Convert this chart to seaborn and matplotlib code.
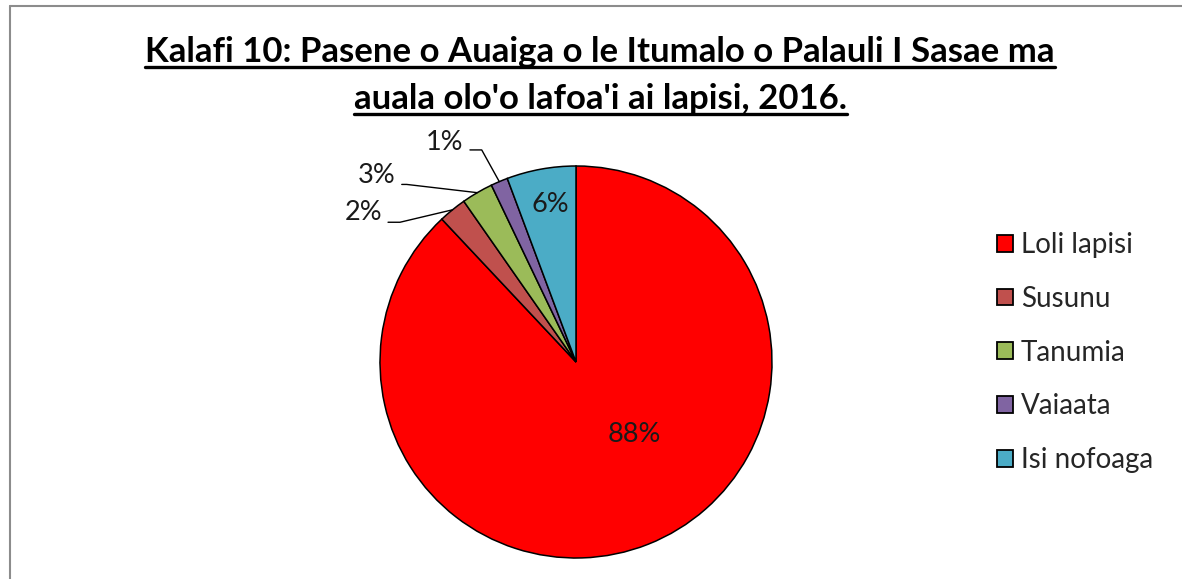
import numpy as np
import matplotlib
matplotlib.use("Agg")
import matplotlib.pyplot as plt
import seaborn as sns

# data
categories = ["Loli lapisi", "Susunu", "Tanumia", "Vaiaata", "Isi nofoaga"]
shares = [88.0, 2.3, 2.6, 1.4, 5.7]
colors = ["#FF0000", "#C0504D", "#9BBB59", "#8064A2", "#4BACC6"]
title_lines = ["Kalafi 10: Pasene o Auaiga o le Itumalo o Palauli I Sasae ma",
               "auala olo'o lafoa'i ai lapisi, 2016."]

sns.set_theme(style="white")
plt.rcParams["font.family"] = ["Lato", "DejaVu Sans"]

W, H = 1182, 579
fig = plt.figure(figsize=(W / 100, H / 100), dpi=100)

# pie: centre (576, 362) px, radius 196 px
cx, cy, r = 576, 362, 196
ax = fig.add_axes([(cx - r) / W, (H - cy - r) / H, 2 * r / W, 2 * r / H])
wedges, _ = ax.pie(shares, colors=colors, startangle=90, counterclock=False,
                   wedgeprops=dict(edgecolor="black", linewidth=1.1))
ax.set_xlim(-1, 1)
ax.set_ylim(-1, 1)
ax.set_aspect("equal")
ax.axis("off")
for w in wedges:
    w.set_clip_on(False)

fs = 19.5
# inside labels (red, blue)
inside_pos = {0: (0.30, -0.37), 4: (-0.133, 0.806)}
# outside labels: text centre, leader start, elbow x
outside_pos = {1: (-1.084, 0.763), 2: (-1.016, 0.952), 3: (-0.672, 1.120)}
leader_start = {1: (-0.959, 0.713), 2: (-0.889, 0.906), 3: (-0.541, 1.082)}
elbow_x = {1: -0.898, 2: -0.864, 3: -0.481}
for i, w in enumerate(wedges):
    txt = f"{shares[i]:.0f}%"
    if i in inside_pos:
        ax.text(*inside_pos[i], txt, ha="center", va="center", fontsize=fs, color="#1a1a1a")
        continue
    tx, ty = outside_pos[i]
    ax.text(tx, ty, txt, ha="center", va="center", fontsize=fs, color="#1a1a1a")
    # leader line to the middle of the wedge's outer edge
    ang = np.deg2rad((w.theta1 + w.theta2) / 2)
    ex, ey = np.cos(ang), np.sin(ang)
    x0, y0 = leader_start[i]
    ax.plot([x0, elbow_x[i], ex], [y0, y0, ey], color="black", lw=1.0, clip_on=False)

# legend
fig.legend(wedges, categories, loc="center left", bbox_to_anchor=(0.832, 0.391),
           frameon=False, fontsize=20, handlelength=0.55, handleheight=0.55,
           handletextpad=0.3, labelspacing=1.0, borderpad=0)
for h in fig.legends[0].legend_handles:
    h.set_edgecolor("black")
    h.set_linewidth(1.3)

# title with underline
title_base = [62, 109]
fig.canvas.draw()
renderer = fig.canvas.get_renderer()
for line, yy in zip(title_lines, title_base):
    t = fig.text(600 / W, 1 - yy / H, line, ha="center", va="baseline",
                 fontsize=25, fontweight="bold", color="black")
    bb = t.get_window_extent(renderer=renderer)
    uy = 1 - (yy + 5) / H
    fig.add_artist(plt.Line2D([bb.x0 / W, bb.x1 / W], [uy, uy], color="black", lw=2.4))

# outer frame (left and top edges visible)
fig.add_artist(plt.Line2D([10 / W, 10 / W], [0, 1 - 6 / H], color="#8c8c8c", lw=1.5))
fig.add_artist(plt.Line2D([10 / W, 1], [1 - 6 / H, 1 - 6 / H], color="#8c8c8c", lw=1.5))

fig.savefig("out.png", dpi=100, facecolor="white")
